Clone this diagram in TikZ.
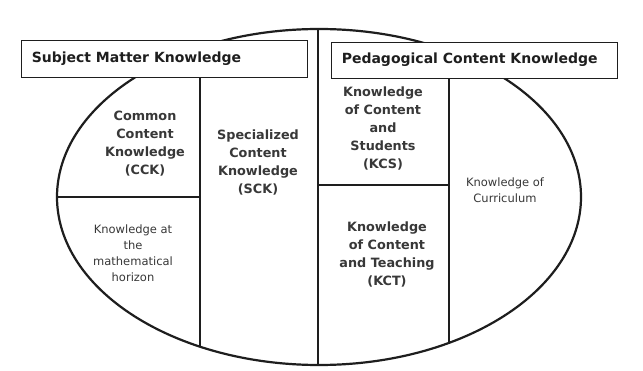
\documentclass[tikz,border=0pt]{standalone}
\usepackage{fontspec}
\setmainfont{DejaVu Sans}
\usetikzlibrary{positioning,calc}
\definecolor{Paper}{HTML}{FFFFFF}
\definecolor{Ink}{HTML}{1E1E1E}
\definecolor{Muted}{HTML}{383838}
\tikzset{
  headbox/.style={draw=Ink,fill=Paper,line width=0.9pt,minimum width=286pt,minimum height=37pt,inner sep=0pt},
  headtext/.style={anchor=west,inner sep=0pt,font=\fontsize{14}{16}\selectfont\bfseries,text=Ink},
  parttext/.style={align=center,inner sep=0pt,font=\fontsize{12.8}{18}\selectfont\bfseries,text=Muted},
  softtext/.style={align=center,inner sep=0pt,font=\fontsize{11.5}{16}\selectfont,text=Muted},
  rim/.style={draw=Ink,line width=2.2pt},
  divider/.style={draw=Ink,line width=1.8pt}
}

\begin{document}
\begin{tikzpicture}[x=1pt,y=-1pt]
      \useasboundingbox[fill=Paper] (0,0) rectangle (643,371);
      % dividers, cut to the oval
      \begin{scope}
        \clip (319,197) ellipse [x radius=262pt,y radius=168pt];
        \draw[divider] (318,0) -- (318,371);
        \draw[divider] (200,77) -- (200,371);
        \draw[divider] (0,197) -- (200,197);
        \draw[divider] (449,78) -- (449,371);
        \draw[divider] (318,185) -- (449,185);
      \end{scope}
      \draw[rim] (319,197) ellipse [x radius=262pt,y radius=168pt];
      % the two headers
      \node[headbox] (smk) at (164,58.5) {};
      \node[headbox,minimum height=36pt] (pck) at (474,60) {};
      \node[headtext] at ([xshift=11pt]smk.west) {Subject Matter Knowledge};
      \node[headtext] at ([xshift=11pt]pck.west) {Pedagogical Content Knowledge};
      % subject matter side
      \node[parttext] (cck) at (145,144) {Common\\Content\\Knowledge\\(CCK)};
      \node[parttext] (sck) at (258,162) {Specialized\\Content\\Knowledge\\(SCK)};
      \node[softtext] (kmh) at (133,253) {Knowledge at\\the\\mathematical\\horizon};
      % pedagogical side
      \node[parttext] (kcs) at (383,128) {Knowledge\\of Content\\and\\Students\\(KCS)};
      \node[softtext] (kc) at (505,190) {Knowledge of\\Curriculum};
      \node[parttext] (kct) at (387,254) {Knowledge\\of Content\\and Teaching\\(KCT)};
    \end{tikzpicture}
\end{document}
